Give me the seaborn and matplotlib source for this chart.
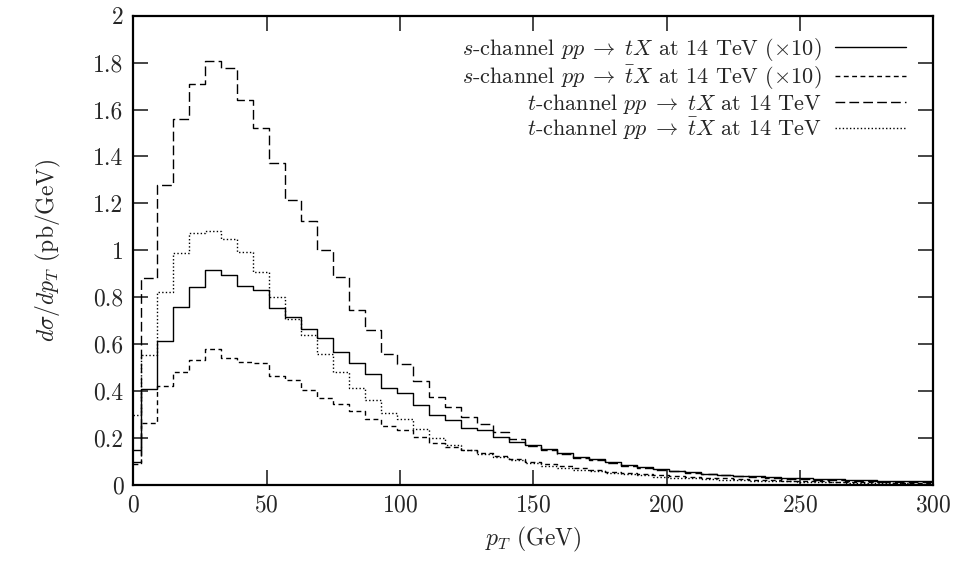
import numpy as np
import pandas as pd
import matplotlib
matplotlib.use("Agg")
import matplotlib.pyplot as plt
from matplotlib.ticker import FuncFormatter
import seaborn as sns

# bin centres (GeV), 6 GeV bins
pt = [0, 6, 12, 18, 24, 30, 36, 42, 48, 54, 60, 66, 72, 78, 84, 90, 96, 102,
      108, 114, 120, 126, 132, 138, 144, 150, 156, 162, 168, 174, 180, 186,
      192, 198, 204, 210, 216, 222, 228, 234, 240, 246, 252, 258, 264, 270,
      276, 282, 288, 294, 300]

# s-channel t (x10)
s_tX = [0.15, 0.41, 0.615, 0.76, 0.845, 0.915, 0.895, 0.85, 0.83, 0.755,
        0.715, 0.665, 0.625, 0.568, 0.521, 0.472, 0.412, 0.391, 0.341, 0.298,
        0.277, 0.241, 0.234, 0.203, 0.185, 0.170, 0.153, 0.135, 0.121, 0.109,
        0.099, 0.085, 0.075, 0.067, 0.061, 0.054, 0.047, 0.043, 0.040, 0.037,
        0.034, 0.031, 0.029, 0.027, 0.025, 0.023, 0.021, 0.019, 0.018, 0.016,
        0.015]
# s-channel tbar (x10)
s_tbarX = [0.09, 0.263, 0.424, 0.483, 0.533, 0.578, 0.543, 0.523, 0.521, 0.466,
           0.447, 0.405, 0.369, 0.346, 0.317, 0.280, 0.251, 0.234, 0.206, 0.178,
           0.163, 0.150, 0.137, 0.124, 0.112, 0.098, 0.088, 0.079, 0.071, 0.064,
           0.057, 0.051, 0.046, 0.041, 0.037, 0.034, 0.031, 0.028, 0.025, 0.023,
           0.021, 0.019, 0.017, 0.016, 0.014, 0.013, 0.012, 0.011, 0.010, 0.009,
           0.008]
# t-channel t
t_tX = [0.10, 0.883, 1.278, 1.559, 1.709, 1.807, 1.777, 1.640, 1.522, 1.373,
        1.213, 1.126, 1.003, 0.888, 0.746, 0.660, 0.558, 0.516, 0.443, 0.374,
        0.334, 0.291, 0.258, 0.227, 0.195, 0.168, 0.150, 0.132, 0.117, 0.105,
        0.094, 0.083, 0.074, 0.066, 0.059, 0.052, 0.046, 0.041, 0.037, 0.033,
        0.030, 0.027, 0.024, 0.022, 0.020, 0.018, 0.016, 0.014, 0.013, 0.012,
        0.011]
# t-channel tbar
t_tbarX = [0.30, 0.553, 0.824, 0.990, 1.072, 1.082, 1.048, 0.991, 0.909, 0.800,
           0.709, 0.640, 0.559, 0.482, 0.415, 0.362, 0.305, 0.280, 0.237, 0.199,
           0.170, 0.150, 0.133, 0.118, 0.105, 0.092, 0.082, 0.073, 0.065, 0.058,
           0.051, 0.046, 0.041, 0.036, 0.032, 0.029, 0.026, 0.023, 0.021, 0.019,
           0.017, 0.015, 0.013, 0.012, 0.011, 0.010, 0.009, 0.008, 0.007, 0.006,
           0.006]

labels = [r"$s$-channel $pp \;\rightarrow\; tX$ at 14 TeV ($\times 10$)",
          r"$s$-channel $pp \;\rightarrow\; \bar{t}X$ at 14 TeV ($\times 10$)",
          r"$t$-channel $pp \;\rightarrow\; tX$ at 14 TeV",
          r"$t$-channel $pp \;\rightarrow\; \bar{t}X$ at 14 TeV"]

sns.set_style("ticks")
plt.rcParams["font.family"] = "serif"
plt.rcParams["font.serif"] = ["cmr10", "DejaVu Serif"]
plt.rcParams["mathtext.fontset"] = "cm"
plt.rcParams["axes.formatter.use_mathtext"] = True

fig = plt.figure(figsize=(9.63, 5.69), dpi=100)
ax = fig.add_axes([0.1384, 0.1476, 0.8308, 0.8248])

styles = ["-", (0, (3.5, 2.5)), (0, (7, 3)), (0, (1, 1.6))]
series = [s_tX, s_tbarX, t_tX, t_tbarX]
for vals, ls, lab in zip(series, styles, labels):
    df = pd.DataFrame({"pt": pt, "val": vals})
    sns.lineplot(data=df, x="pt", y="val", ax=ax, color="black", lw=1.0,
                 linestyle=ls, drawstyle="steps-mid", label=lab)

ax.set_xlim(0, 300)
ax.set_ylim(0, 2)
ax.set_xticks([0, 50, 100, 150, 200, 250, 300])
ax.set_yticks([0, 0.2, 0.4, 0.6, 0.8, 1.0, 1.2, 1.4, 1.6, 1.8, 2.0])
ax.yaxis.set_major_formatter(FuncFormatter(lambda v, p: "%g" % v))
ax.tick_params(direction="in", length=11, width=1.2, top=True, right=True,
               labelsize=17, pad=7)
for sp in ax.spines.values():
    sp.set_linewidth(1.6)
    sp.set_color("black")

ax.set_xlabel(r"$p_T$ (GeV)", fontsize=17, labelpad=6)
ax.set_ylabel(r"$d\sigma/dp_T$ (pb/GeV)", fontsize=17, labelpad=22)

ax.legend(loc="upper right", bbox_to_anchor=(0.985, 0.99), frameon=False,
          markerfirst=False, fontsize=16, handlelength=3.2, labelspacing=0.0,
          handletextpad=0.6, borderpad=0.2)

fig.savefig("out.png", dpi=100)
